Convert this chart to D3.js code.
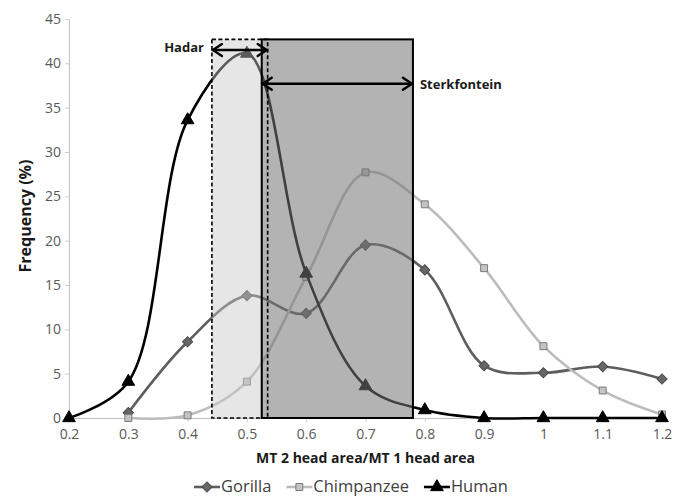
<!DOCTYPE html>
<html>
<head>
<meta charset="utf-8">
<script src="https://cdn.jsdelivr.net/npm/d3@7"></script>
<style>
    body { margin: 0; background: #fff; }
    text { font-family: 'Open Sans', 'Noto Sans', sans-serif; }
</style>
</head>
<body>
<svg id="chartSvg" width="680" height="496"></svg>
<script>

const categories = [0.2, 0.3, 0.4, 0.5, 0.6, 0.7, 0.8, 0.9, 1.0, 1.1, 1.2]
const xLabels = ['0.2', '0.3', '0.4', '0.5', '0.6', '0.7', '0.8', '0.9', '1', '1.1', '1.2']
const yTicks = [0, 5, 10, 15, 20, 25, 30, 35, 40, 45]

const gorilla = [null, 0.6, 8.6, 13.8, 11.8, 19.5, 16.7, 5.9, 5.1, 5.8, 4.4]
const chimpanzee = [null, 0, 0.3, 4.1, 15.9, 27.7, 24.1, 16.9, 8.1, 3.1, 0.4]
const human = [0, 4.1, 33.6, 41.1, 16.3, 3.6, 0.9, 0, 0, 0, 0]

const seriesNames = ['Gorilla', 'Chimpanzee', 'Human']

// ranges of the fossil samples
const hadarRange = [0.441, 0.535]
const sterkfonteinRange = [0.525, 0.78]
const boxTop = 42.7
const hadarArrowY = 41.5
const sterkArrowY = 37.7

window.onload = function(){
    chart.draw()
}

const styles = {
    Gorilla: { line: '#5e5e5e', fill: '#676767', stroke: '#4a4a4a', shape: d3.symbolSquare, size: 52, rotate: 45 },
    Chimpanzee: { line: '#bcbcbc', fill: '#c4c4c4', stroke: '#7a7a7a', shape: d3.symbolSquare, size: 48, rotate: 0 },
    Human: { line: '#000000', fill: '#000000', stroke: '#000000', shape: d3.symbolTriangle, size: 70, rotate: 0 }
}

class chart {

    static draw(){
        const svg = d3.select('#chartSvg')
        const x = d3.scaleLinear().domain([0.2, 1.2]).range([69, 662])
        const y = d3.scaleLinear().domain([0, 45]).range([418, 19])

        this.drawAxes(svg, x, y)

        const series = [
            { name: 'Gorilla', values: gorilla },
            { name: 'Chimpanzee', values: chimpanzee },
            { name: 'Human', values: human }
        ]

        const line = d3.line()
            .x(d => x(d.c))
            .y(d => y(d.v))
            .curve(d3.curveCatmullRom.alpha(0.5))

        series.forEach(s => {
            const pts = categories.map((c, i) => ({ c: c, v: s.values[i] })).filter(d => d.v !== null)
            const st = styles[s.name]
            const g = svg.append('g').attr('class', 'series')
            g.append('path')
                .attr('d', line(pts))
                .attr('fill', 'none')
                .attr('stroke', st.line)
                .attr('stroke-width', 2.6)
            g.selectAll('path.marker')
                .data(pts)
                .join('path')
                .attr('class', 'marker')
                .attr('d', d3.symbol().type(st.shape).size(st.size))
                .attr('transform', d => 'translate(' + x(d.c) + ',' + y(d.v) + ') rotate(' + st.rotate + ')')
                .attr('fill', st.fill)
                .attr('stroke', st.stroke)
                .attr('stroke-width', 1)
        })

        this.drawBoxes(svg, x, y)
        this.drawLegend(svg)
    }

    static drawAxes(svg, x, y){
        const yAxis = svg.append('g')
            .attr('transform', 'translate(' + x.range()[0] + ',0)')
            .call(d3.axisLeft(y).tickValues(yTicks).tickSize(4).tickSizeOuter(0).tickPadding(4))
        const xAxis = svg.append('g')
            .attr('transform', 'translate(0,' + y(0) + ')')
            .call(d3.axisBottom(x).tickValues(categories).tickSize(4).tickSizeOuter(0).tickPadding(7)
                .tickFormat((d, i) => xLabels[i]))

        ;[xAxis, yAxis].forEach(a => {
            a.select('.domain').attr('stroke', '#bfbfbf').attr('stroke-width', 1)
            a.selectAll('.tick line').attr('stroke', '#d0d0d0')
            a.selectAll('.tick text')
                .attr('fill', '#595959')
                .style('font-size', '14px')
                .style('font-family', "'Open Sans', sans-serif")
        })

        svg.append('text')
            .attr('x', (x.range()[0] + x.range()[1]) / 2)
            .attr('y', 463)
            .attr('text-anchor', 'middle')
            .style('font-size', '14px')
            .style('font-weight', 'bold')
            .attr('fill', '#1a1a1a')
            .text('MT 2 head area/MT 1 head area')

        svg.append('text')
            .attr('transform', 'translate(31,' + 216 + ') rotate(-90)')
            .attr('text-anchor', 'middle')
            .style('font-size', '16px')
            .style('font-weight', 'bold')
            .attr('fill', '#1a1a1a')
            .text('Frequency (%)')
    }

    static drawBoxes(svg, x, y){
        // light Hadar fill, stops where the Sterkfontein box starts
        svg.append('rect')
            .attr('x', x(hadarRange[0]))
            .attr('y', y(boxTop))
            .attr('width', x(sterkfonteinRange[0]) - x(hadarRange[0]))
            .attr('height', y(0) - y(boxTop))
            .attr('fill', 'rgb(200,200,200)')
            .attr('fill-opacity', 0.45)

        svg.append('rect')
            .attr('x', x(sterkfonteinRange[0]))
            .attr('y', y(boxTop))
            .attr('width', x(sterkfonteinRange[1]) - x(sterkfonteinRange[0]))
            .attr('height', y(0) - y(boxTop))
            .attr('fill', 'rgb(117,117,117)')
            .attr('fill-opacity', 0.55)
            .attr('stroke', '#000')
            .attr('stroke-width', 2)

        svg.append('rect')
            .attr('x', x(hadarRange[0]))
            .attr('y', y(boxTop))
            .attr('width', x(hadarRange[1]) - x(hadarRange[0]))
            .attr('height', y(0) - y(boxTop))
            .attr('fill', 'none')
            .attr('stroke', '#000')
            .attr('stroke-width', 1.6)
            .attr('stroke-dasharray', '4,2.5')

        this.drawArrow(svg, x(hadarRange[0]) + 1, x(hadarRange[1]) - 1, y(hadarArrowY))
        this.drawArrow(svg, x(sterkfonteinRange[0]) + 1, x(sterkfonteinRange[1]) - 1, y(sterkArrowY))

        svg.append('text')
            .attr('x', x(hadarRange[0]) - 8)
            .attr('y', y(hadarArrowY) + 2)
            .attr('text-anchor', 'end')
            .style('font-size', '13px')
            .style('font-weight', 'bold')
            .attr('fill', '#1a1a1a')
            .text('Hadar')

        svg.append('text')
            .attr('x', x(sterkfonteinRange[1]) + 7)
            .attr('y', y(sterkArrowY) + 5)
            .style('font-size', '13px')
            .style('font-weight', 'bold')
            .attr('fill', '#1a1a1a')
            .text('Sterkfontein')
    }

    static drawArrow(svg, x1, x2, yy){
        const g = svg.append('g')
            .attr('stroke', '#000')
            .attr('stroke-width', 2.4)
            .attr('fill', 'none')
            .attr('stroke-linecap', 'round')
        g.append('line').attr('x1', x1).attr('x2', x2).attr('y1', yy).attr('y2', yy)
        g.append('path').attr('d', 'M' + (x1 + 9) + ',' + (yy - 6) + 'L' + x1 + ',' + yy + 'L' + (x1 + 9) + ',' + (yy + 6))
        g.append('path').attr('d', 'M' + (x2 - 9) + ',' + (yy - 6) + 'L' + x2 + ',' + yy + 'L' + (x2 - 9) + ',' + (yy + 6))
    }

    static drawLegend(svg){
        let cx = 194
        const ly = 487
        seriesNames.forEach(name => {
            const st = styles[name]
            const g = svg.append('g')
            g.append('line')
                .attr('x1', cx).attr('x2', cx + 26)
                .attr('y1', ly).attr('y2', ly)
                .attr('stroke', st.line)
                .attr('stroke-width', 2.6)
            g.append('path')
                .attr('d', d3.symbol().type(st.shape).size(st.size)())
                .attr('transform', 'translate(' + (cx + 13) + ',' + ly + ') rotate(' + st.rotate + ')')
                .attr('fill', st.fill)
                .attr('stroke', st.stroke)
            const t = g.append('text')
                .attr('x', cx + 27)
                .attr('y', ly + 5)
                .style('font-size', '16.5px')
                .attr('fill', '#404040')
                .text(name)
            cx = cx + 27 + t.node().getComputedTextLength() + 15
        })
    }
}
</script>
</body>
</html>
